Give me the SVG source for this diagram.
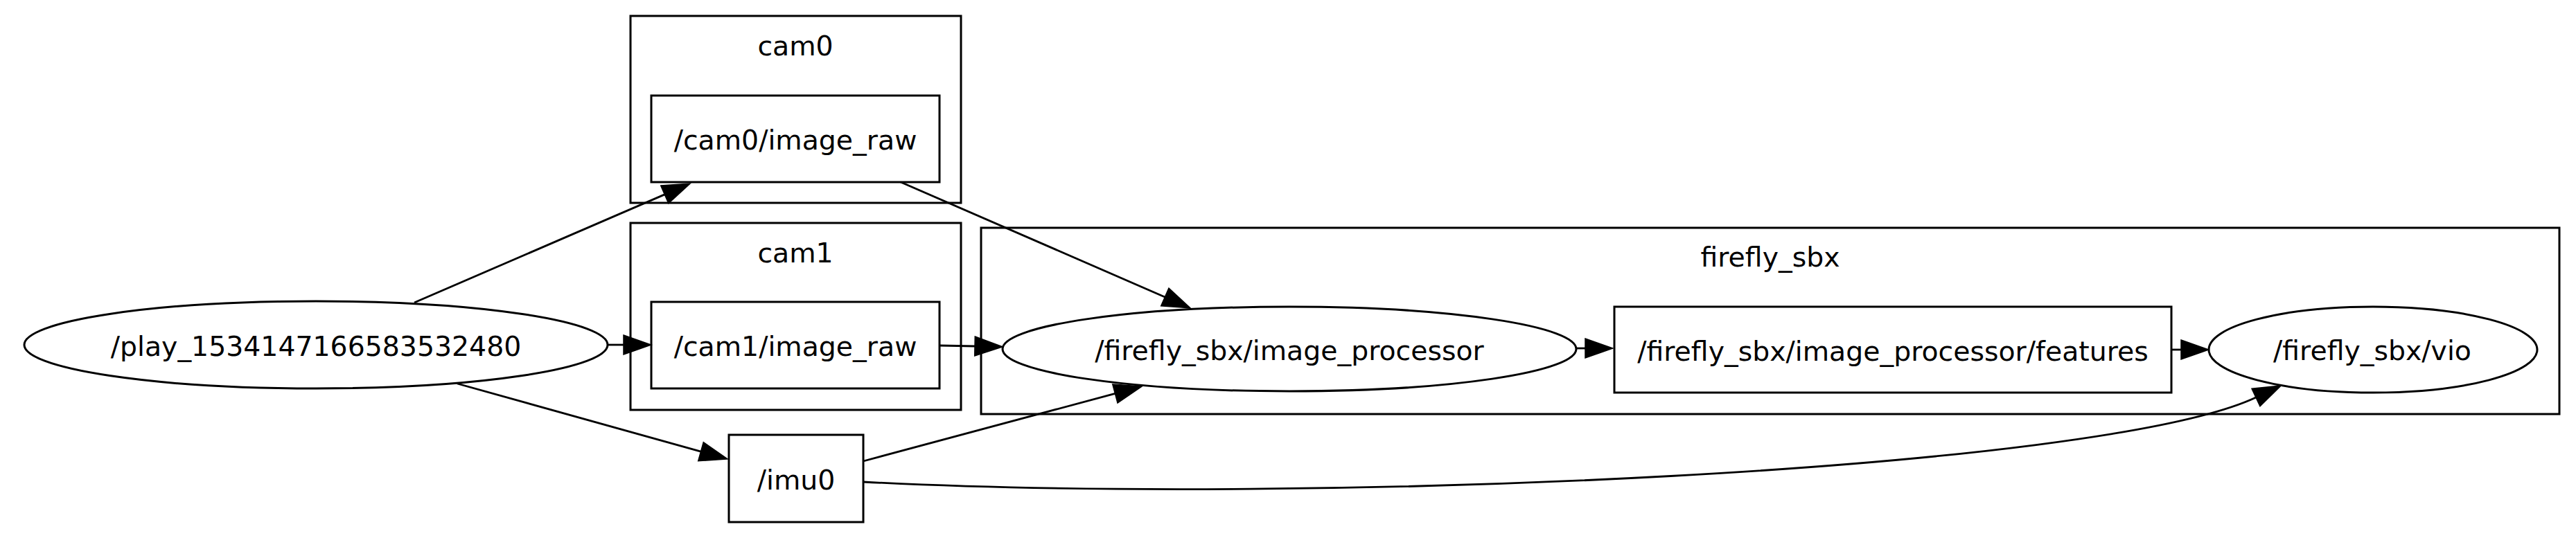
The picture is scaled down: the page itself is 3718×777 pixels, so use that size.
<svg xmlns="http://www.w3.org/2000/svg" width="3718" height="777" viewBox="0 0 3718 777">
<style>
.c{fill:none;stroke:#000;stroke-width:3}
.n{fill:none;stroke:#000;stroke-width:3}
.e{fill:none;stroke:#000;stroke-width:2.8}
text{font-family:"DejaVu Sans","Liberation Sans",sans-serif;font-size:39.4px;fill:#000;text-anchor:middle}
</style>
<defs>
<marker id="arr" markerUnits="userSpaceOnUse" viewBox="-2 -16 44 32" refX="0" refY="0" markerWidth="44" markerHeight="32" orient="auto">
<path d="M0,-14 L40,0 L0,14 Z" fill="#000" stroke="#000" stroke-width="1.5"/>
</marker>
</defs>
<rect width="3718" height="777" fill="#fff"/>
<g id="cluster_cam0">
<rect class="c" x="910" y="23" width="477" height="270"/>
<text x="1148" y="80">cam0</text>
</g>
<g id="cluster_cam1">
<rect class="c" x="910" y="322" width="477" height="270"/>
<text x="1148" y="379">cam1</text>
</g>
<g id="cluster_firefly_sbx">
<rect class="c" x="1416" y="329" width="2278" height="269"/>
<text x="2555" y="385">firefly_sbx</text>
</g>
<g id="node_play">
<ellipse class="n" cx="456" cy="498" rx="421" ry="63"/>
<text x="456" y="514">/play_1534147166583532480</text>
</g>
<g id="node_cam0_image_raw">
<rect class="n" x="940" y="138" width="416" height="125"/>
<text x="1148" y="216">/cam0/image_raw</text>
</g>
<g id="node_cam1_image_raw">
<rect class="n" x="940" y="436" width="416" height="125"/>
<text x="1148" y="514">/cam1/image_raw</text>
</g>
<g id="node_imu0">
<rect class="n" x="1052" y="628" width="194" height="126"/>
<text x="1149" y="707">/imu0</text>
</g>
<g id="node_image_processor">
<ellipse class="n" cx="1861" cy="504" rx="414" ry="61"/>
<text x="1861" y="520">/firefly_sbx/image_processor</text>
</g>
<g id="node_features">
<rect class="n" x="2330" y="443" width="804" height="124"/>
<text x="2732" y="521">/firefly_sbx/image_processor/features</text>
</g>
<g id="node_vio">
<ellipse class="n" cx="3425" cy="505" rx="237" ry="62"/>
<text x="3424" y="520">/firefly_sbx/vio</text>
</g>
<g id="connectors">
<path class="e" d="M598,437 L959.3,280.9" marker-end="url(#arr)"/>
<path class="e" d="M878,498 L900,498" marker-end="url(#arr)"/>
<path class="e" d="M660,554 L1011.5,652.2" marker-end="url(#arr)"/>
<path class="e" d="M1300,263 L1681.3,429" marker-end="url(#arr)"/>
<path class="e" d="M1356,499 L1407,500" marker-end="url(#arr)"/>
<path class="e" d="M1246,666 L1609.4,568.4" marker-end="url(#arr)"/>
<path class="e" d="M1246,696 C1900,730 3030,680 3256,574" marker-end="url(#arr)"/>
<path class="e" d="M2275,503 L2288,503" marker-end="url(#arr)"/>
<path class="e" d="M3134,505 L3148,505" marker-end="url(#arr)"/>
</g>
</svg>
